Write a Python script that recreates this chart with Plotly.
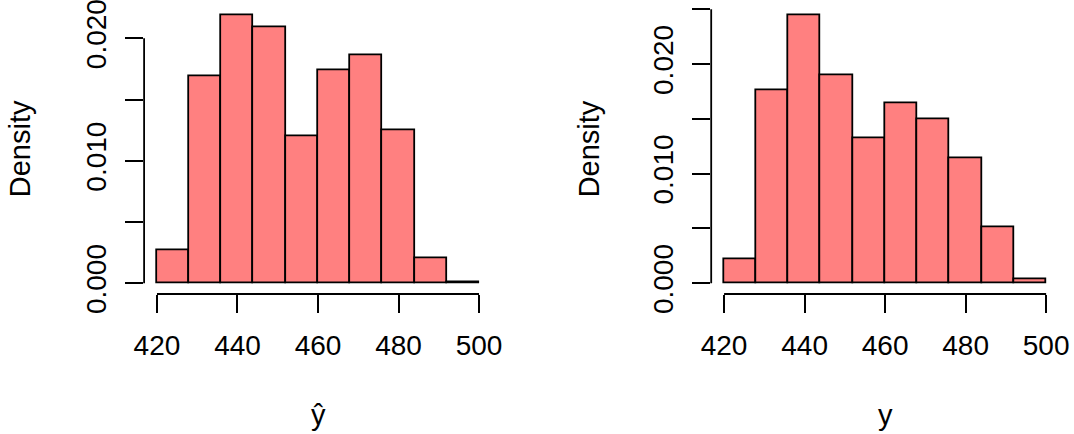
import plotly.graph_objects as go

# ---- data ----
bin_edges = [420, 428, 436, 444, 452, 460, 468, 476, 484, 492, 500]
density_yhat = [0.00266, 0.01687, 0.02190, 0.02087, 0.01197, 0.01741, 0.01858, 0.01251, 0.00207, 0.00005]
density_y = [0.00219, 0.01764, 0.02448, 0.01898, 0.01323, 0.01642, 0.01499, 0.01143, 0.00511, 0.00039]
x_ticks = [420, 440, 460, 480, 500]
y_ticks_left = [0.0, 0.005, 0.010, 0.015, 0.020]
y_ticks_right = [0.0, 0.005, 0.010, 0.015, 0.020, 0.025]
y_ticklabels_left = ["0.000", "", "0.010", "", "0.020"]
y_ticklabels_right = ["0.000", "", "0.010", "", "0.020", ""]
x_titles = ["ŷ", "y"]
y_title = "Density"

W, H = 1074, 434
FONT = "Liberation Sans, Arial, sans-serif"
FILL = "#FF8080"
LW = 1.8
FS = 28
FS_TITLE = 29

centers = [(a + b) / 2 for a, b in zip(bin_edges[:-1], bin_edges[1:])]
widths = [b - a for a, b in zip(bin_edges[:-1], bin_edges[1:])]

fig = go.Figure()
for i, dens in enumerate([density_yhat, density_y]):
    ax = "" if i == 0 else "2"
    fig.add_trace(go.Bar(
        x=centers, y=dens, width=widths,
        marker=dict(color=FILL, line=dict(color="black", width=LW)),
        xaxis="x" + ax, yaxis="y" + ax, showlegend=False, hoverinfo="x+y",
    ))

def ext(lo, hi):
    d = (hi - lo) * 0.04
    return [lo - d, hi + d]

xr = ext(bin_edges[0], bin_edges[-1])
yr_left = ext(0, max(density_yhat))
yr_right = ext(0, max(density_y))

# pixel domains of the two plot regions
x_dom = [[144.1 / W, 491.9 / W], [711.2 / W, 1059.0 / W]]
y_dom = [(H - 294.0) / H, (H - 4.3) / H]

tickfont = dict(family=FONT, size=FS, color="black")
common_x = dict(range=xr, tickvals=x_ticks, ticktext=[str(v) for v in x_ticks],
                ticks="outside", ticklen=18, tickwidth=LW, tickcolor="black",
                showgrid=False, zeroline=False, showline=False, tickfont=tickfont,
                ticklabelstandoff=8, ticklabeloverflow="allow",
                fixedrange=True, automargin=False)
common_y = dict(ticks="outside", ticklen=18, tickwidth=LW, tickcolor="black",
                showgrid=False, zeroline=False, showline=False, tickfont=tickfont,
                tickangle=-90, ticklabelstandoff=8, ticklabeloverflow="allow",
                fixedrange=True, automargin=False)

fig.update_layout(
    template="none",
    width=W, height=H,
    margin=dict(l=0, r=0, t=0, b=0, pad=0, autoexpand=False),
    paper_bgcolor="white", plot_bgcolor="white",
    bargap=0,
    font=dict(family=FONT, color="black"),
    xaxis=dict(domain=x_dom[0], anchor="y", **common_x),
    yaxis=dict(domain=y_dom, anchor="x", range=yr_left, tickvals=y_ticks_left,
               ticktext=y_ticklabels_left, **common_y),
    xaxis2=dict(domain=x_dom[1], anchor="y2", **common_x),
    yaxis2=dict(domain=y_dom, anchor="x2", range=yr_right, tickvals=y_ticks_right,
                ticktext=y_ticklabels_right, **common_y),
)

# R-style detached axis lines spanning first to last tick
for ax, yt in [("", y_ticks_left), ("2", y_ticks_right)]:
    fig.add_shape(type="line", xref="x" + ax, yref="y" + ax + " domain",
                  x0=x_ticks[0], x1=x_ticks[-1], y0=0, y1=0,
                  line=dict(color="black", width=LW))
    fig.add_shape(type="line", xref="x" + ax + " domain", yref="y" + ax,
                  x0=0, x1=0, y0=yt[0], y1=yt[-1],
                  line=dict(color="black", width=LW))

# axis titles
for i, ax in enumerate(["", "2"]):
    fig.add_annotation(text=x_titles[i], xref="x" + ax + " domain", yref="paper",
                       x=0.5, y=(H - 433) / H, xanchor="center", yanchor="bottom",
                       showarrow=False, font=dict(family=FONT, size=FS_TITLE, color="black"))
    fig.add_annotation(text=y_title, xref="x" + ax + " domain", yref="y" + ax + " domain",
                       x=0, xshift=-(144 - 20) if i == 0 else -(711 - 589), y=0.5,
                       xanchor="center", yanchor="middle", textangle=-90,
                       showarrow=False, font=dict(family=FONT, size=FS_TITLE, color="black"))

fig.write_html("out.html", config={"displayModeBar": False},
               post_script="document.body.style.margin='0';document.body.style.overflow='hidden';")
